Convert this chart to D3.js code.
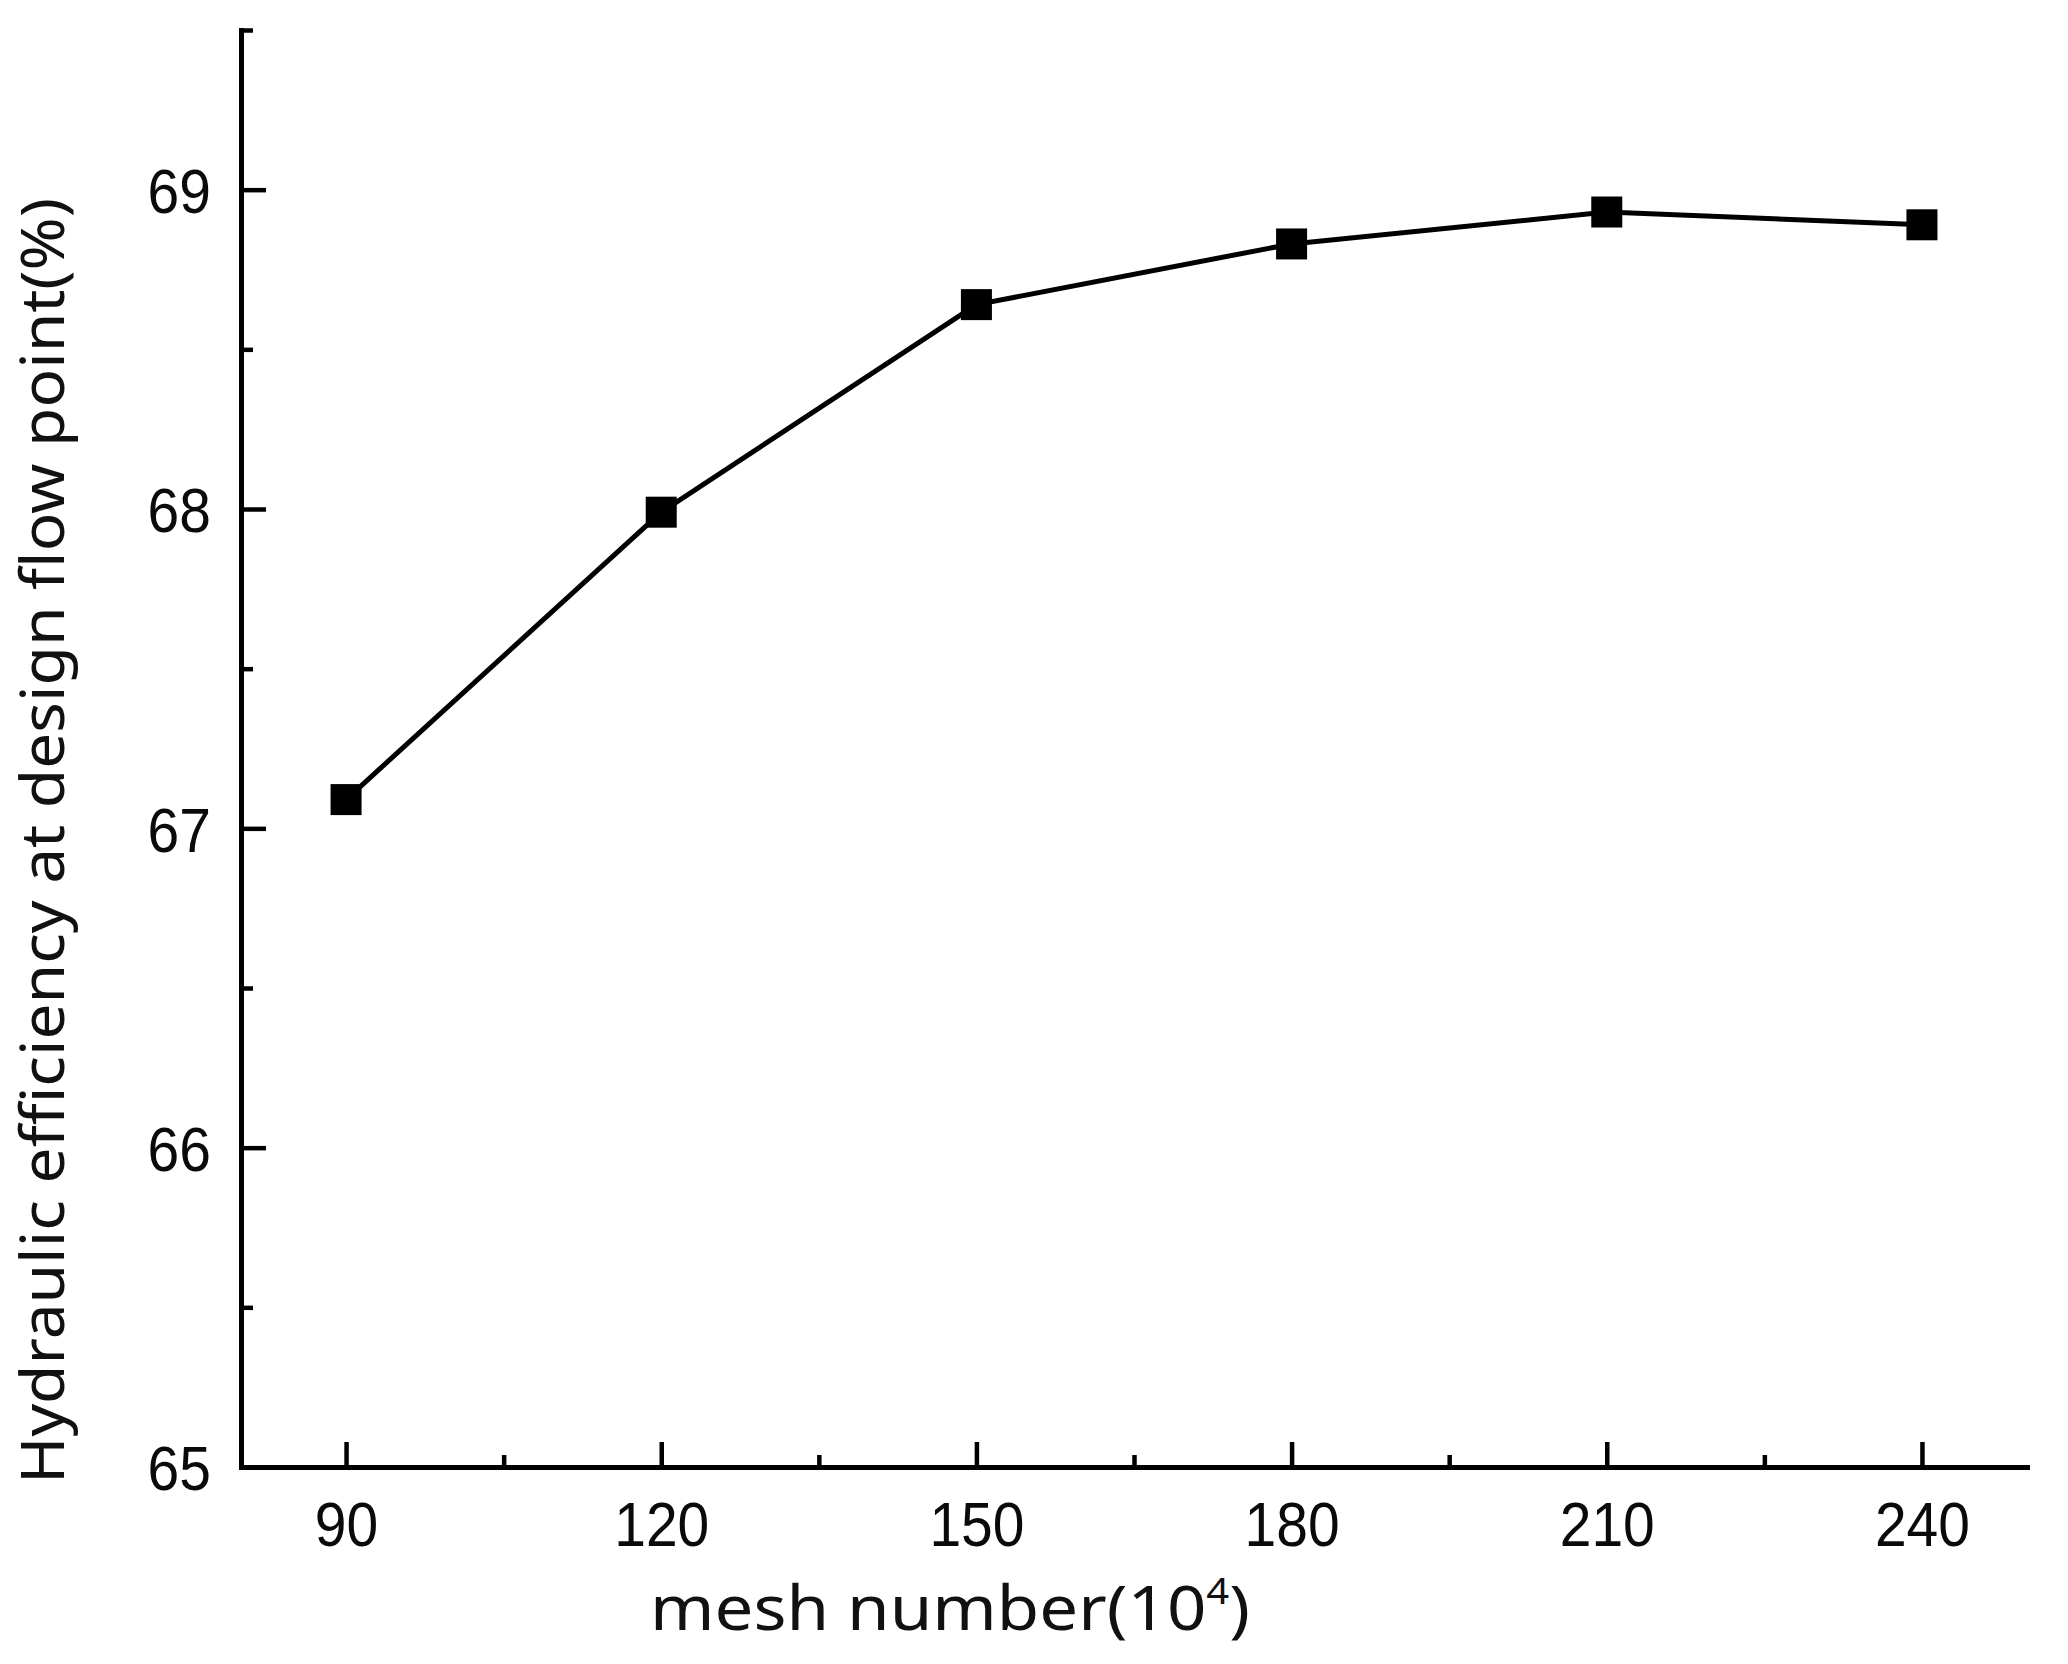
<!DOCTYPE html>
<html>
<head>
<meta charset="utf-8">
<script src="https://cdn.jsdelivr.net/npm/d3@7"></script>
<style>
  html, body { margin: 0; padding: 0; background: #fff; }
  svg { display: block; }
</style>
</head>
<body>
<script>
// ---- data ----
const categories = [90, 120, 150, 180, 210, 240];
const efficiency = [67.09, 67.99, 68.64, 68.83, 68.93, 68.89];
const xTickValues = [90, 120, 150, 180, 210, 240];
const xMinorTicks = [105, 135, 165, 195, 225];
const yTickValues = [65, 66, 67, 68, 69];
const yMinorTicks = [65.5, 66.5, 67.5, 68.5, 69.5];
const xTitle = "mesh number(10";
const xTitleSup = "4";
const xTitleEnd = ")";
const yTitle = "Hydraulic efficiency at design flow point(%)";

const W = 2068, H = 1664;
const svg = d3.select("body").append("svg").attr("width", W).attr("height", H);

const x = d3.scaleLinear().domain([80, 250]).range([241, 2027]);
const y = d3.scaleLinear().domain([65, 69.5]).range([1467, 30]);

const tickFont = "'Liberation Sans', Arial, sans-serif";
const titleFont = "'Noto Sans', 'Open Sans', sans-serif";

// bottom axis (major)
const gx = svg.append("g").attr("transform", `translate(0,${y(65)})`)
  .call(d3.axisBottom(x).tickValues(xTickValues).tickSizeInner(-25).tickSizeOuter(0).tickFormat(d3.format("d")));
gx.select(".domain").attr("stroke", "#000").attr("stroke-width", 5).attr("stroke-linecap", "square");
gx.selectAll(".tick line").attr("stroke", "#000").attr("stroke-width", 4.5);
gx.selectAll(".tick text")
  .attr("y", 0).attr("dy", 0)
  .attr("transform", "translate(0,79) scale(1,1.12)")
  .attr("font-family", tickFont).attr("font-size", 57).attr("fill", "#0a0a0a");

// bottom axis (minor)
const gxm = svg.append("g").attr("transform", `translate(0,${y(65)})`)
  .call(d3.axisBottom(x).tickValues(xMinorTicks).tickSizeInner(-12).tickSizeOuter(0).tickFormat(""));
gxm.select(".domain").remove();
gxm.selectAll(".tick line").attr("stroke", "#000").attr("stroke-width", 4.5);

// left axis (major)
const gy = svg.append("g").attr("transform", `translate(${x(80)},0)`)
  .call(d3.axisLeft(y).tickValues(yTickValues).tickSizeInner(-25).tickSizeOuter(0).tickFormat(d3.format("d")));
gy.select(".domain").attr("stroke", "#000").attr("stroke-width", 5).attr("stroke-linecap", "square");
gy.selectAll(".tick line").attr("stroke", "#000").attr("stroke-width", 4.5);
gy.selectAll(".tick text")
  .attr("x", 0).attr("dy", "0.36em")
  .attr("transform", "translate(-30,0) scale(1,1.12)")
  .attr("text-anchor", "end")
  .attr("font-family", tickFont).attr("font-size", 57).attr("fill", "#0a0a0a");

// left axis (minor)
const gym = svg.append("g").attr("transform", `translate(${x(80)},0)`)
  .call(d3.axisLeft(y).tickValues(yMinorTicks).tickSizeInner(-12).tickSizeOuter(0).tickFormat(""));
gym.select(".domain").remove();
gym.selectAll(".tick line").attr("stroke", "#000").attr("stroke-width", 4.5);

// data line
const pts = categories.map((c, i) => [c, efficiency[i]]);
const line = d3.line().x(d => x(d[0])).y(d => y(d[1])).curve(d3.curveLinear);
svg.append("path").datum(pts)
  .attr("d", line)
  .attr("fill", "none").attr("stroke", "#000").attr("stroke-width", 5)
  .attr("stroke-linejoin", "round");

// markers
const ms = 31;
svg.append("g").selectAll("rect").data(pts).join("rect")
  .attr("x", d => x(d[0]) - ms / 2)
  .attr("y", d => y(d[1]) - ms / 2)
  .attr("width", ms).attr("height", ms)
  .attr("fill", "#000");

// x title
const xt = svg.append("text")
  .attr("x", 650).attr("y", 1630)
  .attr("font-family", titleFont).attr("font-size", 62).attr("fill", "#111")
  .attr("textLength", 600).attr("lengthAdjust", "spacingAndGlyphs");
xt.append("tspan").text(xTitle);
xt.append("tspan").attr("dy", -26).attr("font-size", 36).text(xTitleSup);
xt.append("tspan").attr("dy", 26).text(xTitleEnd);

// y title
svg.append("text")
  .attr("transform", "translate(64,841) rotate(-90)")
  .attr("text-anchor", "middle")
  .attr("font-family", titleFont).attr("font-size", 60).attr("fill", "#111")
  .attr("textLength", 1286).attr("lengthAdjust", "spacingAndGlyphs")
  .text(yTitle);
</script>
</body>
</html>
